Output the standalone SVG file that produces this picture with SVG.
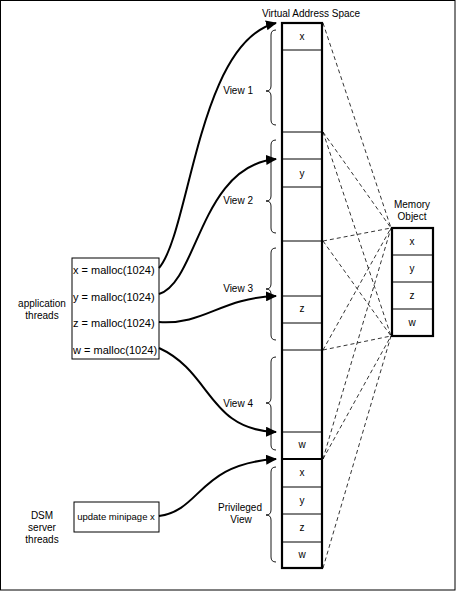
<svg xmlns="http://www.w3.org/2000/svg" width="456" height="591" viewBox="0 0 456 591">
<defs>
<marker id="ah" markerUnits="userSpaceOnUse" markerWidth="12" markerHeight="10" refX="10" refY="5" orient="auto">
<path d="M0,0 L11,5 L0,10 Z" fill="#000"/>
</marker>
<style>
text{font-family:"Liberation Sans",Arial,Helvetica,sans-serif;font-size:10px;fill:#000}
.m{text-anchor:middle}
.e{text-anchor:end}
.big{font-size:11px}
.thin{stroke:#000;stroke-width:1;fill:none}
.thick{stroke:#000;stroke-width:2.2;fill:none}
.brace{stroke:#000;stroke-width:0.9;fill:none}
.dash{stroke:#000;stroke-width:0.8;stroke-dasharray:4 3;fill:none}
.arr{stroke:#000;stroke-width:2;fill:none;marker-end:url(#ah)}
</style>
</defs>
<rect x="0.5" y="0.5" width="454.5" height="589.5" fill="#fff" stroke="#000" stroke-width="1"/>

<g id="virtual-address-space">
<text class="m" x="311" y="17">Virtual Address Space</text>
<rect x="282" y="23" width="40" height="545" fill="#fff" stroke="#000" stroke-width="2.2"/>
<path class="thin" d="M282,50H322M282,132H322M282,159H322M282,187H322M282,241H322M282,296H322M282,323H322M282,350H322M282,432H322M282,487H322M282,514H322M282,542H322"/>
<path class="thick" d="M282,459H322"/>
<text class="m" x="302" y="40">x</text>
<text class="m" x="302" y="177">y</text>
<text class="m" x="302" y="312">z</text>
<text class="m" x="302" y="448">w</text>
<text class="m" x="302" y="476">x</text>
<text class="m" x="302" y="504">y</text>
<text class="m" x="302" y="531">z</text>
<text class="m" x="302" y="558">w</text>
</g>

<g id="view1">
<path class="brace" d="M276,30Q271,30 271,35L271,86Q271,91 266,91Q271,91 271,96L271,120Q271,125 276,125"/>
<text class="e" x="253" y="94">View 1</text>
</g>
<g id="view2">
<path class="brace" d="M276,140Q271,140 271,145L271,196Q271,201 266,201Q271,201 271,206L271,228Q271,233 276,233"/>
<text class="e" x="253" y="204">View 2</text>
</g>
<g id="view3">
<path class="brace" d="M276,248Q271,248 271,253L271,284Q271,289 266,289Q271,289 271,294L271,335Q271,340 276,340"/>
<text class="e" x="253" y="292">View 3</text>
</g>
<g id="view4">
<path class="brace" d="M276,357Q271,357 271,362L271,398Q271,403 266,403Q271,403 271,408L271,445Q271,450 276,450"/>
<text class="e" x="253" y="407">View 4</text>
</g>
<g id="privileged-view">
<path class="brace" d="M276,467Q271,467 271,472L271,510Q271,515 266,515Q271,515 271,520L271,557Q271,562 276,562"/>
<text class="m" x="240" y="511">Privileged</text>
<text class="m" x="241" y="523">View</text>
</g>

<g id="memory-object">
<text class="m" x="412" y="208">Memory</text>
<text class="m" x="412" y="220">Object</text>
<rect x="392" y="228" width="41" height="108" fill="#fff" stroke="#000" stroke-width="2.2"/>
<path class="thin" d="M392,255H433M392,282H433M392,309H433"/>
<text class="m" x="412" y="245">x</text>
<text class="m" x="412" y="272">y</text>
<text class="m" x="412" y="299">z</text>
<text class="m" x="412" y="326">w</text>
</g>

<g id="application-threads">
<text class="m" x="42" y="307">application</text>
<text class="m" x="42" y="319">threads</text>
<rect x="72" y="258" width="87" height="101" fill="#fff" stroke="#000" stroke-width="1"/>
<text class="big" x="73" y="274">x = malloc(1024)</text>
<text class="big" x="73" y="301">y = malloc(1024)</text>
<text class="big" x="73" y="327">z = malloc(1024)</text>
<text class="big" x="73" y="354">w = malloc(1024)</text>
</g>

<g id="dsm-server-threads">
<text class="m" x="42" y="519">DSM</text>
<text class="m" x="42" y="531">server</text>
<text class="m" x="42" y="543">threads</text>
<rect x="74" y="502" width="85" height="30" fill="#fff" stroke="#000" stroke-width="1"/>
<text class="m" x="116" y="520" style="font-size:9.5px">update minipage x</text>
</g>

<g id="connectors">
<path class="dash" d="M323,23L391,228M323,132L391,336M323,132L391,228M323,241L391,336M323,241L391,228M323,350L391,336M323,350L391,228M323,459L391,336M323,459L391,228M323,568L391,336"/>
<path class="arr" d="M159,268C190,232 198,42 276,23"/>
<path class="arr" d="M159,294C198,282 200,166 276,159"/>
<path class="arr" d="M159,322C205,325 220,298 276,296"/>
<path class="arr" d="M159,348C212,372 208,430 276,432"/>
<path class="arr" d="M159,516C202,510 198,464 276,459"/>
</g>
</svg>
